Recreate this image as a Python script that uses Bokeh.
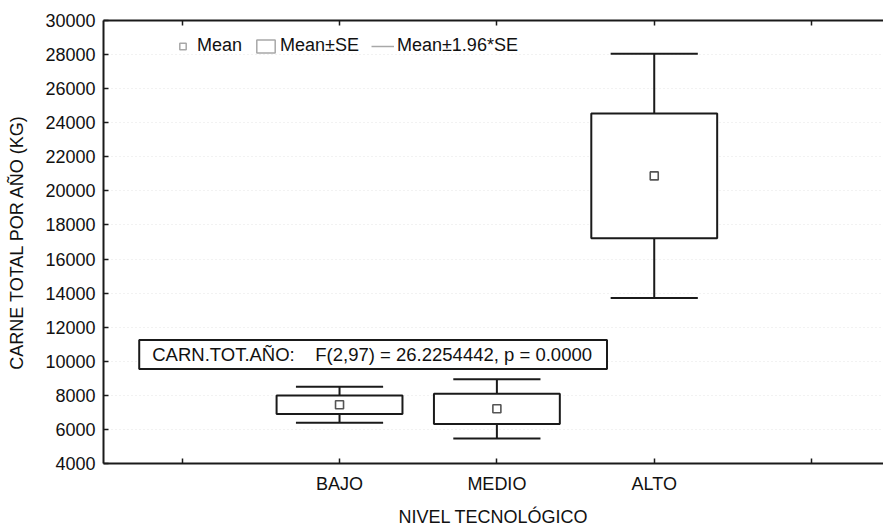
from bokeh.plotting import figure
from bokeh.models import (Range1d, FixedTicker, LinearAxis, Legend, LegendItem,
                          Label, ColumnDataSource)
from bokeh.embed import file_html
from bokeh.resources import INLINE

# ---- data ----
categories = ["BAJO", "MEDIO", "ALTO"]
cat_pos = [1, 2, 3]
means = [7450, 7210, 20880]
se = [540, 887, 3660]
y_ticks = list(range(4000, 30001, 2000))
x_ticks = [0, 1, 2, 3, 4]
stat_text = "CARN.TOT.AÑO:\u00a0\u00a0\u00a0\u00a0F(2,97) = 26.2254442, p = 0.0000"

FONT = "Liberation Sans"
FS = "18px"
INK = "#1a1a1a"
NAN = float("nan")

box_lo = [m - s for m, s in zip(means, se)]
box_hi = [m + s for m, s in zip(means, se)]
wh_lo = [m - 1.96 * s for m, s in zip(means, se)]
wh_hi = [m + 1.96 * s for m, s in zip(means, se)]
box_half = 0.4
cap_half = 0.277

src = ColumnDataSource(dict(
    x=cat_pos, mean=means, lo=box_lo, hi=box_hi, wlo=wh_lo, whi=wh_hi,
    left=[x - box_half for x in cat_pos], right=[x + box_half for x in cat_pos],
    cl=[x - cap_half for x in cat_pos], cr=[x + cap_half for x in cat_pos],
))

p = figure(width=883, height=529,
           x_range=Range1d(-0.5, 4.457), y_range=Range1d(4000, 30000),
           output_backend="svg", toolbar_location=None,
           min_border_left=103, min_border_right=0, min_border_top=20,
           min_border_bottom=65)
p.outline_line_color = None
p.background_fill_color = "white"
p.border_fill_color = "white"

# grid: very faint dotted
p.xgrid.grid_line_color = None
p.ygrid.ticker = FixedTicker(ticks=y_ticks)
p.ygrid.grid_line_color = "#e4e4e4"
p.ygrid.grid_line_dash = "1 3"

# whiskers
p.segment(x0="x", y0="hi", x1="x", y1="whi", source=src, line_color=INK, line_width=2)
p.segment(x0="x", y0="wlo", x1="x", y1="lo", source=src, line_color=INK, line_width=2)
p.segment(x0="cl", y0="whi", x1="cr", y1="whi", source=src, line_color=INK, line_width=2)
p.segment(x0="cl", y0="wlo", x1="cr", y1="wlo", source=src, line_color=INK, line_width=2)
# boxes
p.quad(left="left", right="right", bottom="lo", top="hi", source=src,
       fill_color="white", line_color=INK, line_width=2)
# means
p.scatter(x="x", y="mean", source=src, marker="square", size=8,
          fill_color="white", line_color="#555555", line_width=1.6)

# axes
p.xaxis.ticker = FixedTicker(ticks=x_ticks)
ov = {t: "" for t in x_ticks}
for x, c in zip(cat_pos, categories):
    ov[x] = c
p.xaxis.major_label_overrides = ov
p.xaxis.axis_label = "NIVEL TECNOLÓGICO"
p.yaxis.ticker = FixedTicker(ticks=y_ticks)
p.yaxis.axis_label = "CARNE TOTAL POR AÑO (KG)"

for ax in (p.xaxis[0], p.yaxis[0]):
    ax.axis_line_color = INK
    ax.axis_line_width = 2
    ax.major_tick_line_color = INK
    ax.major_tick_line_width = 1.5
    ax.major_tick_in = 5
    ax.major_tick_out = 0
    ax.minor_tick_line_color = None
    ax.major_label_text_font = FONT
    ax.major_label_text_font_size = FS
    ax.major_label_text_color = "#111111"
    ax.axis_label_text_font = FONT
    ax.axis_label_text_font_size = FS
    ax.axis_label_text_font_style = "normal"
    ax.axis_label_text_color = "#111111"

p.xaxis.major_label_standoff = 10
p.xaxis.axis_label_standoff = 10
p.yaxis.major_label_standoff = 8
p.yaxis.axis_label_standoff = 15

top = LinearAxis(ticker=FixedTicker(ticks=x_ticks), major_label_text_font_size="0px",
                 major_tick_in=5, major_tick_out=0, major_label_standoff=0,
                 axis_line_color=INK, axis_line_width=2,
                 major_tick_line_color=INK, major_tick_line_width=1.5,
                 minor_tick_line_color=None)
top.major_label_overrides = {t: "" for t in x_ticks}
p.add_layout(top, "above")

# stats label
p.add_layout(Label(x=-0.273, y=10400, text=stat_text, text_baseline="middle",
                   text_align="left", text_font=FONT, text_font_size="18.5px",
                   text_color="#111111",
                   border_line_color=INK, border_line_width=2,
                   background_fill_color="white",
                   padding=dict(left=13, right=15, top=4, bottom=4)))

# legend (legend-only renderers, no visible points)
leg_mean = p.scatter(x=[NAN], y=[NAN], marker="square", size=7, fill_color="white",
                     line_color="#a8a8a8", line_width=1.5)
leg_box = p.quad(left=[NAN], right=[NAN], bottom=[NAN], top=[NAN], fill_color="white",
                 line_color="#a8a8a8", line_width=1.5)
leg_wh = p.segment(x0=[NAN], y0=[NAN], x1=[NAN], y1=[NAN], line_color="#a8a8a8",
                   line_width=1.5)
legend = Legend(items=[LegendItem(label="Mean", renderers=[leg_mean]),
                       LegendItem(label="Mean±SE", renderers=[leg_box]),
                       LegendItem(label="Mean±1.96*SE", renderers=[leg_wh])],
                orientation="horizontal", location=(68, 407),
                border_line_color=None, background_fill_alpha=0,
                padding=0, margin=0, spacing=12, glyph_width=23, glyph_height=16,
                label_standoff=3, label_height=20,
                label_text_font=FONT, label_text_font_size=FS,
                label_text_color="#111111")
p.add_layout(legend)

open("out.html", "w").write(file_html(p, INLINE))
